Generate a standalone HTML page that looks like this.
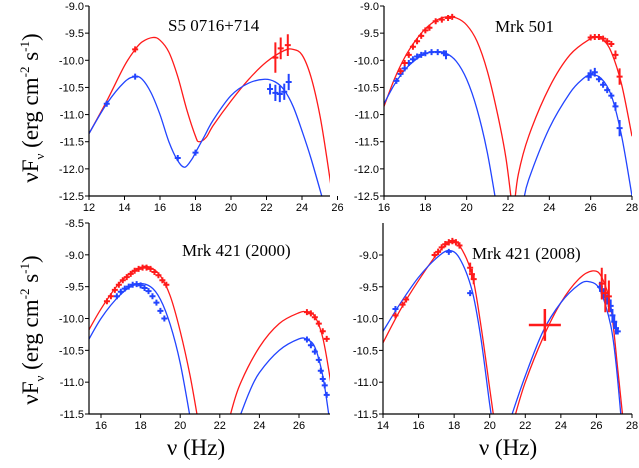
<!DOCTYPE html>
<html><head><meta charset="utf-8"><style>
body{margin:0;background:#fff;}
svg{display:block;}
text{font-family:"Liberation Sans",Arial,sans-serif;}
.serif{font-family:"Liberation Serif","DejaVu Serif",serif;}
</style></head><body>
<svg id="fig" width="639" height="468" viewBox="0 0 639 468">
<text class="serif" transform="translate(38,108) rotate(-90)" text-anchor="middle" font-size="23">νF<tspan font-size="13" dy="6">ν</tspan><tspan dy="-6"> (erg cm</tspan><tspan font-size="13" dy="-9">-2</tspan><tspan dy="9"> s</tspan><tspan font-size="13" dy="-9">-1</tspan><tspan dy="9">)</tspan></text>
<text class="serif" transform="translate(38,330) rotate(-90)" text-anchor="middle" font-size="23">νF<tspan font-size="13" dy="6">ν</tspan><tspan dy="-6"> (erg cm</tspan><tspan font-size="13" dy="-9">-2</tspan><tspan dy="9"> s</tspan><tspan font-size="13" dy="-9">-1</tspan><tspan dy="9">)</tspan></text>
<text class="serif" x="196" y="455" text-anchor="middle" font-size="23">ν (Hz)</text>
<text class="serif" x="508" y="455" text-anchor="middle" font-size="23">ν (Hz)</text>
</svg>
<script>
// ---- Panel 1: S5 0716+714 ----
const p1RedCurveX=[12,13,14,14.6,15,15.6,16,16.5,17,17.5,18,18.2,18.6,19,20,21,22,23,23.5,24,24.5,25,25.4,25.8];
const p1RedCurveY=[-11.35,-10.75,-10.1,-9.8,-9.66,-9.58,-9.63,-9.85,-10.3,-10.9,-11.4,-11.5,-11.42,-11.2,-10.75,-10.35,-10.03,-9.82,-9.8,-9.9,-10.3,-11.0,-11.8,-12.7];
const p1BlueCurveX=[12,13,14,14.6,15,15.5,16,16.5,17,17.4,17.8,18,18.5,19,20,21,21.9,22.5,23,23.5,24,24.5,25.2];
const p1BlueCurveY=[-11.35,-10.8,-10.4,-10.3,-10.35,-10.6,-11.0,-11.5,-11.85,-11.97,-11.82,-11.7,-11.4,-11.1,-10.65,-10.42,-10.35,-10.4,-10.55,-10.85,-11.3,-11.8,-12.6];
const p1RedPtsX=[14.6,22.5,22.8,23.2];
const p1RedPtsY=[-9.8,-9.95,-9.78,-9.72];
const p1RedPtsErr=[0.03,0.28,0.2,0.2];
const p1BluePtsX=[13,14.6,17,18,22.2,22.5,22.75,23.0,23.25];
const p1BluePtsY=[-10.8,-10.3,-11.8,-11.7,-10.53,-10.6,-10.62,-10.58,-10.4];
const p1BluePtsErr=[0.03,0.03,0.03,0.03,0.1,0.15,0.15,0.15,0.15];
// ---- Panel 2: Mrk 501 ----
const p2RedCurveX=[16,16.5,17,17.5,18,18.5,19,19.5,20,20.5,21,21.5,21.9,22.2,null,22.3,22.5,23,24,25,26,26.3,26.6,27,27.5,28];
const p2RedCurveY=[-10.85,-10.35,-9.95,-9.65,-9.42,-9.27,-9.2,-9.22,-9.35,-9.65,-10.2,-11.0,-11.8,-12.7,null,-12.7,-12.1,-11.4,-10.5,-9.9,-9.6,-9.58,-9.62,-9.85,-10.45,-11.4];
const p2BlueCurveX=[16,16.5,17,17.5,18,18.5,19,19.5,20,20.5,21,21.5,null,22.75,23,24,25,25.6,26,26.5,27,27.5,28];
const p2BlueCurveY=[-10.8,-10.45,-10.18,-10.0,-9.88,-9.84,-9.87,-10.02,-10.35,-10.9,-11.7,-12.8,null,-12.6,-12.2,-11.25,-10.6,-10.35,-10.27,-10.33,-10.65,-11.4,-12.5];
const p2RedPtsX=[16.8,17.0,17.2,17.4,17.6,17.8,18.0,18.2,18.5,18.8,19.1,19.3,26.0,26.2,26.4,26.6,26.8,27.0,27.2,27.4];
const p2RedPtsY=[-10.2,-10.05,-9.9,-9.75,-9.65,-9.55,-9.45,-9.4,-9.28,-9.25,-9.22,-9.2,-9.58,-9.57,-9.57,-9.6,-9.65,-9.7,-9.9,-10.3];
const p2RedPtsErr=[0.05,0.05,0.05,0.05,0.05,0.05,0.05,0.05,0.05,0.05,0.05,0.05,0.05,0.05,0.05,0.05,0.05,0.05,0.08,0.15];
const p2BluePtsX=[16.6,16.8,17.0,17.2,17.4,17.6,17.8,18.0,18.3,18.6,18.9,19.0,25.9,26.0,26.2,26.4,26.6,26.8,27.0,27.2,27.4];
const p2BluePtsY=[-10.38,-10.25,-10.15,-10.05,-9.98,-9.93,-9.9,-9.87,-9.85,-9.85,-9.87,-9.9,-10.3,-10.25,-10.22,-10.35,-10.45,-10.55,-10.65,-10.85,-11.25];
const p2BluePtsErr=[0.04,0.04,0.04,0.04,0.04,0.04,0.04,0.04,0.04,0.04,0.04,0.08,0.08,0.08,0.08,0.05,0.05,0.05,0.05,0.08,0.15];
// ---- Panel 3: Mrk 421 (2000) ----
const p3RedCurveX=[15,16,17,18,18.5,19,19.5,20,20.5,20.9,null,22.5,23,24,25,26,26.4,26.8,27.2,27.6,27.8];
const p3RedCurveY=[-10.4,-9.85,-9.42,-9.2,-9.2,-9.33,-9.65,-10.2,-10.9,-11.6,null,-11.55,-11.05,-10.45,-10.08,-9.91,-9.9,-9.97,-10.3,-11.0,-11.5];
const p3BlueCurveX=[15,16,17,17.8,18.5,19,19.5,20,20.5,null,23.0,23.5,24,25,26,26.4,26.8,27.2,27.5];
const p3BlueCurveY=[-10.55,-10.0,-9.62,-9.46,-9.5,-9.7,-10.1,-10.7,-11.55,null,-11.55,-11.15,-10.85,-10.5,-10.32,-10.33,-10.45,-10.9,-11.5];
const p3RedPtsX=[16.3,16.5,16.7,16.9,17.1,17.3,17.5,17.7,17.9,18.1,18.3,18.5,18.7,18.9,19.1,19.3,26.4,26.6,26.8,27.0,27.2,27.4];
const p3RedPtsY=[-9.73,-9.65,-9.55,-9.47,-9.4,-9.35,-9.3,-9.25,-9.22,-9.2,-9.2,-9.22,-9.27,-9.32,-9.4,-9.47,-9.9,-9.92,-9.98,-10.08,-10.2,-10.32];
const p3BluePtsX=[16.8,17.0,17.2,17.4,17.6,17.8,18.0,18.2,18.4,18.6,18.8,19.0,19.2,26.4,26.6,26.8,27.0,27.1,27.2,27.3,27.4];
const p3BluePtsY=[-9.65,-9.58,-9.53,-9.5,-9.47,-9.46,-9.48,-9.52,-9.57,-9.65,-9.75,-9.88,-10.0,-10.33,-10.42,-10.52,-10.65,-10.82,-10.95,-11.05,-11.2];
// ---- Panel 4: Mrk 421 (2008) ----
const p4RedCurveX=[14,15,16,17,17.8,18.3,19,19.5,20,20.3,null,21.4,22,23,24,25,25.8,26.3,26.8,27.2,27.5];
const p4RedCurveY=[-10.38,-9.85,-9.4,-9.0,-8.78,-8.85,-9.3,-10.1,-11.1,-11.7,null,-11.55,-11.0,-10.3,-9.75,-9.38,-9.25,-9.35,-9.8,-10.8,-11.6];
const p4BlueCurveX=[14,15,16,17,17.7,18.3,19,19.5,20,20.2,null,21.2,22,23,24,25,25.6,26.2,26.8,27.1,27.4];
const p4BlueCurveY=[-10.2,-9.75,-9.35,-9.05,-8.93,-9.05,-9.55,-10.3,-11.35,-11.7,null,-11.55,-10.9,-10.2,-9.75,-9.47,-9.42,-9.55,-10.1,-10.7,-11.6];
const p4RedPtsX=[14.7,15.1,15.3,16.9,17.1,17.3,17.5,17.7,17.9,18.1,18.3,18.9,19.0,19.1,23.1,26.3,26.5,26.7];
const p4RedPtsY=[-9.95,-9.78,-9.7,-9.0,-8.95,-8.88,-8.83,-8.8,-8.78,-8.8,-8.85,-9.2,-9.3,-9.38,-10.1,-9.45,-9.6,-9.65];
const p4RedPtsErr=[0.03,0.03,0.03,0.05,0.05,0.05,0.05,0.05,0.05,0.05,0.05,0.08,0.08,0.08,0.25,0.25,0.3,0.25];
const p4RedPtsXErr=[0.15,0.15,0.15,0.15,0.15,0.15,0.15,0.15,0.15,0.15,0.15,0.15,0.15,0.15,0.9,0.15,0.15,0.15];
const p4BluePtsX=[14.7,17.7,18.9,26.2,26.4,26.6,26.8,26.9,27.0,27.1,27.2];
const p4BluePtsY=[-9.85,-8.95,-9.6,-9.5,-9.6,-9.7,-9.8,-9.95,-10.05,-10.15,-10.2];
const p4BluePtsErr=[0.03,0.03,0.03,0.08,0.08,0.08,0.1,0.1,0.1,0.1,0.05];

const NS='http://www.w3.org/2000/svg';
const svg=document.getElementById('fig');
function mk(tag,attrs,parent){const e=document.createElementNS(NS,tag);for(const k in attrs)e.setAttribute(k,attrs[k]);(parent||svg).appendChild(e);return e;}

function panel(id,cfg){
  const g=mk('g',{});
  
  
  const sx=v=>cfg.px0+(v-cfg.vx0)*(cfg.px1-cfg.px0)/(cfg.vx1-cfg.vx0);
  const sy=v=>cfg.py0+(v-cfg.vy0)*(cfg.py1-cfg.py0)/(cfg.vy1-cfg.vy0);
  const clip=mk('clipPath',{id:id+'-clip'},g);
  mk('rect',{x:cfg.left,y:cfg.top-2,width:cfg.right-cfg.left,height:cfg.bottom-cfg.top+2},clip);
  const plot=mk('g',{'clip-path':'url(#'+id+'-clip)'},g);
  function curve(xs,ys,color,name){
    let segs=[[]];
    xs.forEach((x,i)=>{if(x===null){segs.push([]);}else segs[segs.length-1].push([sx(x),sy(ys[i])]);});
    let d='';
    segs.forEach(p=>{if(p.length<2)return;d+='M'+p[0][0]+','+p[0][1];
      for(let i=0;i<p.length-1;i++){const p0=p[i-1]||p[i],p1=p[i],p2=p[i+1],p3=p[i+2]||p2;
        d+='C'+(p1[0]+(p2[0]-p0[0])/6)+','+(p1[1]+(p2[1]-p0[1])/6)+' '+(p2[0]-(p3[0]-p1[0])/6)+','+(p2[1]-(p3[1]-p1[1])/6)+' '+p2[0]+','+p2[1];}});
    const e=mk('path',{d:d,fill:'none',stroke:color,'stroke-width':1.3},plot);
    
    
  }
  function pts(xs,ys,errs,xerrs,color,name){
    xs.forEach((x,i)=>{const cx=sx(x),cy=sy(ys[i]);
      const ey=Math.max(3,Math.abs(sy(ys[i]+(errs?errs[i]:0.04))-cy));
      const ex=xerrs?Math.max(3,Math.abs(sx(x+xerrs[i])-cx)):3;
      const e=mk('path',{d:'M'+(cx-ex)+','+cy+'H'+(cx+ex)+'M'+cx+','+(cy-ey)+'V'+(cy+ey),stroke:color,'stroke-width':ex>8?2.5:2,fill:'none'},plot);
      
      
    });
  }
  curve(cfg.rcx,cfg.rcy,'#ff1a1a',id+'-red-model-curve');
  curve(cfg.bcx,cfg.bcy,'#2244ff',id+'-blue-model-curve');
  pts(cfg.bpx,cfg.bpy,cfg.bpe,null,'#2244ff',id+'-blue-data-point');
  pts(cfg.rpx,cfg.rpy,cfg.rpe,cfg.rpxe,'#ff1a1a',id+'-red-data-point');
  const ax=mk('path',{d:'M'+cfg.left+','+cfg.top+'V'+cfg.bottom+'H'+cfg.right,stroke:'#000','stroke-width':1.2,fill:'none'},g);
  
  
  cfg.yt.forEach(v=>{const y=sy(v);
    mk('line',{x1:cfg.left-4,x2:cfg.left,y1:y,y2:y,stroke:'#000','stroke-width':1},g);
    const t=mk('text',{x:cfg.left-5,y:y+4,'text-anchor':'end','font-size':11},g);
    t.textContent=v.toFixed(1);
    
    
  });
  cfg.xt.forEach(v=>{const x=sx(v);
    mk('line',{x1:x,x2:x,y1:cfg.bottom,y2:cfg.bottom+4,stroke:'#000','stroke-width':1},g);
    const t=mk('text',{x:x,y:cfg.bottom+15,'text-anchor':'middle','font-size':11},g);
    t.textContent=String(v);
    
    
  });
  const tt=mk('text',{x:cfg.tx,y:cfg.ty,'font-size':17,'class':'serif'},g);
  tt.textContent=cfg.title;
  
  
}
panel('s5-0716',{px0:89,px1:302,vx0:12,vx1:24,py0:6,py1:196,vy0:-9,vy1:-12.5,left:89,right:330,top:6,bottom:196,
  yt:[-9,-9.5,-10,-10.5,-11,-11.5,-12,-12.5],xt:[12,14,16,18,20,22,24,26],title:'S5 0716+714',tx:168,ty:31,
  rcx:p1RedCurveX,rcy:p1RedCurveY,bcx:p1BlueCurveX,bcy:p1BlueCurveY,rpx:p1RedPtsX,rpy:p1RedPtsY,rpe:p1RedPtsErr,bpx:p1BluePtsX,bpy:p1BluePtsY,bpe:p1BluePtsErr});
panel('mrk501',{px0:384,px1:632,vx0:16,vx1:28,py0:6,py1:196,vy0:-9,vy1:-12.5,left:384,right:632,top:6,bottom:196,
  yt:[-9,-9.5,-10,-10.5,-11,-11.5,-12,-12.5],xt:[16,18,20,22,24,26,28],title:'Mrk 501',tx:495,ty:32,
  rcx:p2RedCurveX,rcy:p2RedCurveY,bcx:p2BlueCurveX,bcy:p2BlueCurveY,rpx:p2RedPtsX,rpy:p2RedPtsY,rpe:p2RedPtsErr,bpx:p2BluePtsX,bpy:p2BluePtsY,bpe:p2BluePtsErr});
panel('mrk421-2000',{px0:101,px1:299,vx0:16,vx1:26,py0:223,py1:414,vy0:-8.5,vy1:-11.5,left:89,right:330,top:223,bottom:414,
  yt:[-8.5,-9,-9.5,-10,-10.5,-11,-11.5],xt:[16,18,20,22,24,26],title:'Mrk 421 (2000)',tx:182,ty:256,
  rcx:p3RedCurveX,rcy:p3RedCurveY,bcx:p3BlueCurveX,bcy:p3BlueCurveY,rpx:p3RedPtsX,rpy:p3RedPtsY,rpe:null,bpx:p3BluePtsX,bpy:p3BluePtsY,bpe:null});
panel('mrk421-2008',{px0:383,px1:632,vx0:14,vx1:28,py0:255,py1:414,vy0:-9,vy1:-11.5,left:383,right:632,top:223,bottom:414,
  yt:[-9,-9.5,-10,-10.5,-11,-11.5],xt:[14,16,18,20,22,24,26,28],title:'Mrk 421 (2008)',tx:472,ty:259,
  rcx:p4RedCurveX,rcy:p4RedCurveY,bcx:p4BlueCurveX,bcy:p4BlueCurveY,rpx:p4RedPtsX,rpy:p4RedPtsY,rpe:p4RedPtsErr,rpxe:p4RedPtsXErr,bpx:p4BluePtsX,bpy:p4BluePtsY,bpe:p4BluePtsErr});
</script>
</body></html>
